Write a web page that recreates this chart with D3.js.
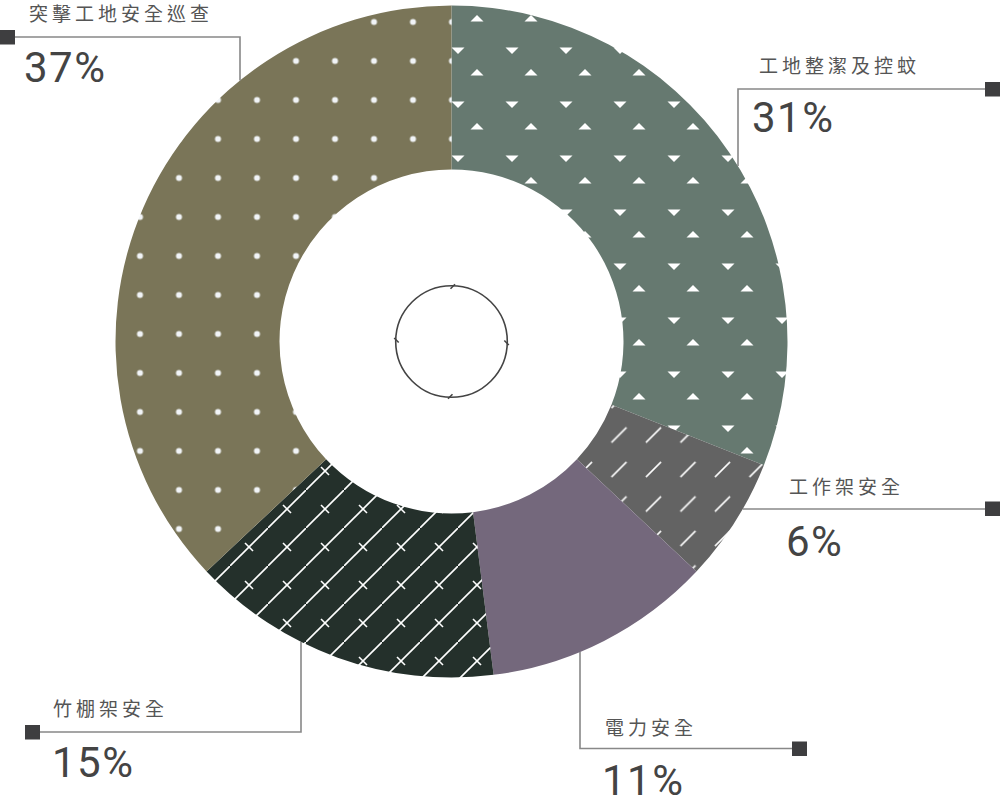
<!DOCTYPE html>
<html>
<head>
<meta charset="utf-8">
<script src="https://cdn.jsdelivr.net/npm/d3@7"></script>
<style>
  html, body { margin: 0; padding: 0; background: #fff; }
  svg { display: block; }
</style>
</head>
<body>
<svg id="chart" width="1000" height="798"></svg>
<script>
// ---- data ----
const categories = ["工地整潔及控蚊", "工作架安全", "電力安全", "竹棚架安全", "突擊工地安全巡查"];
const values = [31, 6, 11, 15, 37];
const valueLabels = ["31%", "6%", "11%", "15%", "37%"];

// ---- layout / style ----
const W = 1000, H = 798;
const cx = 451.5, cy = 341.5;
const outerR = 336, innerR = 172;
const colors = ["#667970", "#636363", "#74687c", "#24302b", "#7a7558"];
const patternIds = ["pTri", "pSlash", null, "pCross", "pDots"];

const svg = d3.select("#chart");
const defs = svg.append("defs");

// dots
{
  const p = defs.append("pattern").attr("id", "pDots").attr("patternUnits", "userSpaceOnUse")
    .attr("x", 3.5 - cx).attr("y", 2.5 - cy).attr("width", 39).attr("height", 39);
  p.append("rect").attr("width", 39).attr("height", 39).attr("fill", colors[4]);
  p.append("circle").attr("cx", 19.5).attr("cy", 19.5).attr("r", 3).attr("fill", "#f1f4f7");
}
// triangles
{
  const p = defs.append("pattern").attr("id", "pTri").attr("patternUnits", "userSpaceOnUse")
    .attr("x", 450 - cx).attr("y", 8 - cy).attr("width", 54).attr("height", 54);
  p.append("rect").attr("width", 54).attr("height", 54).attr("fill", colors[0]);
  p.append("path").attr("d", "M20.5,13.5 L33.5,13.5 L27,7 Z").attr("fill", "#fff");
  p.append("path").attr("d", "M1.5,39.5 L14.5,39.5 L8,46 Z").attr("fill", "#fff");
}
// slashes
{
  const s = 34.5, h = s / 2;
  const p = defs.append("pattern").attr("id", "pSlash").attr("patternUnits", "userSpaceOnUse")
    .attr("x", 619 - h - cx).attr("y", 435 - h - cy).attr("width", s).attr("height", s);
  p.append("rect").attr("width", s).attr("height", s).attr("fill", colors[1]);
  p.append("line").attr("x1", h - 7.5).attr("y1", h + 7.5).attr("x2", h + 7.5).attr("y2", h - 7.5)
    .attr("stroke", "#fff").attr("stroke-width", 1.6);
}
// diagonal lines with crosses
{
  const s = 38, h = s / 2;
  const p = defs.append("pattern").attr("id", "pCross").attr("patternUnits", "userSpaceOnUse")
    .attr("x", 230 - cx).attr("y", 490 - cy).attr("width", s).attr("height", s);
  p.append("rect").attr("width", s).attr("height", s).attr("fill", colors[3]);
  p.append("line").attr("x1", -2).attr("y1", s + 2).attr("x2", s + 2).attr("y2", -2)
    .attr("stroke", "#fff").attr("stroke-width", 1.6);
  p.append("line").attr("x1", h - 4).attr("y1", h - 4).attr("x2", h + 4).attr("y2", h + 4)
    .attr("stroke", "#fff").attr("stroke-width", 1.6);
}

const data = categories.map((c, i) => ({ name: c, value: values[i], label: valueLabels[i], i }));
const pie = d3.pie().sort(null).value(d => d.value).startAngle(0).endAngle(2 * Math.PI);
const arcs = pie(data);
const arc = d3.arc().innerRadius(innerR).outerRadius(outerR);

const g = svg.append("g").attr("transform", `translate(${cx},${cy})`);
g.selectAll("path.slice").data(arcs).enter().append("path")
  .attr("class", "slice")
  .attr("d", arc)
  .attr("fill", d => patternIds[d.data.i] ? `url(#${patternIds[d.data.i]})` : colors[d.data.i]);

// centre ring with rotation ticks
const ringR = 55.8;
g.append("circle").attr("r", ringR).attr("fill", "none").attr("stroke", "#444").attr("stroke-width", 1.6);
[0, 90, 180, 270].forEach(deg => {
  const a = deg * Math.PI / 180;
  const rx = Math.sin(a), ry = -Math.cos(a);
  const tx = Math.cos(a), ty = Math.sin(a);
  const p1 = [rx * (ringR - 3) - tx * 1, ry * (ringR - 3) - ty * 1];
  const p2 = [rx * (ringR + 1.5) + tx * 3.5, ry * (ringR + 1.5) + ty * 3.5];
  g.append("line").attr("x1", p1[0]).attr("y1", p1[1]).attr("x2", p2[0]).attr("y2", p2[1])
    .attr("stroke", "#444").attr("stroke-width", 1.6);
});

// ---- labels with leader lines ----
const edgeYAt = (x, sign) => cy + sign * Math.sqrt(outerR * outerR - (x - cx) * (x - cx));
const edgeXAt = (y, sign) => cx + sign * Math.sqrt(outerR * outerR - (y - cy) * (y - cy));

const labelSpecs = [
  { i: 0, pts: [[738, edgeYAt(738, -1)], [738, 89], [985, 89]], sq: [985, 82], nameXY: [759, 73], valXY: [752, 132] },
  { i: 1, pts: [[edgeXAt(509, 1), 509], [985, 509]], sq: [985, 501.5], nameXY: [789, 494], valXY: [786, 556] },
  { i: 2, pts: [[580, edgeYAt(580, 1)], [580, 748.5], [792, 748.5]], sq: [792, 741.5], nameXY: [605, 735], valXY: [602, 795] },
  { i: 3, pts: [[301, edgeYAt(301, 1)], [301, 732], [40, 732]], sq: [25, 725], nameXY: [53, 716], valXY: [52, 777] },
  { i: 4, pts: [[240, edgeYAt(240, -1)], [240, 37], [15, 37]], sq: [0, 30], nameXY: [29, 21], valXY: [24, 82] }
];

const line = d3.line();
const lab = svg.append("g");
labelSpecs.forEach(s => {
  const d = data[s.i];
  lab.append("path").attr("d", line(s.pts)).attr("fill", "none")
    .attr("stroke", "#888").attr("stroke-width", 1.6);
  lab.append("rect").attr("x", s.sq[0]).attr("y", s.sq[1]).attr("width", 15).attr("height", 14.5)
    .attr("fill", "#3e3e40");
  lab.append("text").attr("x", s.nameXY[0]).attr("y", s.nameXY[1])
    .attr("font-family", "'Noto Sans CJK TC', 'Noto Sans CJK SC', sans-serif")
    .attr("font-size", 19).attr("letter-spacing", 4).attr("fill", "#555")
    .text(d.name);
  lab.append("text").attr("x", s.valXY[0]).attr("y", s.valXY[1])
    .attr("font-family", "Roboto, 'Open Sans', sans-serif")
    .attr("font-size", 42).attr("font-weight", 400).attr("letter-spacing", 1.5).attr("fill", "#444")
    .text(d.label);
});
</script>
</body>
</html>
